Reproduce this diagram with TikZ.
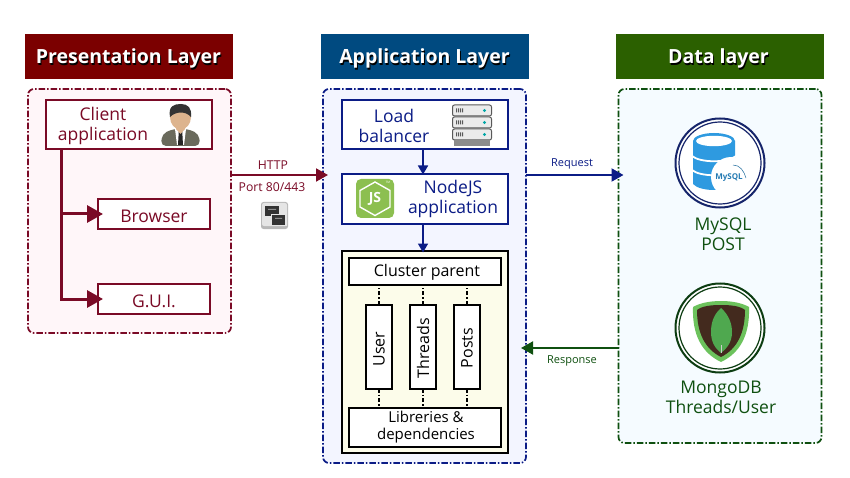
\documentclass[tikz,border=0pt]{standalone}
\usepackage{fontspec}
\setmainfont{Open Sans}
\usetikzlibrary{arrows.meta,calc}
\definecolor{cred}{HTML}{7A0A26}
\definecolor{hred}{HTML}{7B0000}
\definecolor{hblue}{HTML}{004A80}
\definecolor{hgreen}{HTML}{2B6000}
\definecolor{cblue}{HTML}{0B1C86}
\definecolor{cgreen}{HTML}{0F5010}
\definecolor{ring}{HTML}{16256B}
\definecolor{ringg}{HTML}{0D3D12}
\definecolor{sky}{HTML}{2E9AE0}
\definecolor{pred}{HTML}{FFF6F9}
\definecolor{pblue}{HTML}{F3F5FF}
\definecolor{pgreen}{HTML}{F5FBFF}
\definecolor{cream}{HTML}{FCFCEA}
\definecolor{skin}{HTML}{DDB48E}
\definecolor{suit}{HTML}{6A6A5C}
\definecolor{shout}{HTML}{6CC25C}
\definecolor{shin}{HTML}{432A1E}
\definecolor{leaf}{HTML}{4FA84F}
\definecolor{nodeg}{HTML}{8CBF50}
\tikzset{
  x=1pt,y=-1pt,
  header/.style={minimum width=208pt,minimum height=45pt,inner sep=0pt,outer sep=0pt},
  headtext/.style={text=white,font=\fontsize{19.5}{21}\selectfont\bfseries,inner sep=0pt},
  headshadow/.style={text=black,font=\fontsize{19.5}{21}\selectfont\bfseries,inner sep=0pt},
  panel/.style={rounded corners=6pt,line width=1.7pt,dash pattern=on 6.5pt off 2pt on 1.5pt off 2pt,inner sep=0pt,outer sep=0pt},
  boxr/.style={draw=cred,fill=white,line width=2pt,inner sep=0pt,outer sep=0pt},
  boxb/.style={draw=cblue,fill=white,line width=2pt,inner sep=0pt,outer sep=0pt},
  boxk/.style={draw=black,fill=white,line width=2pt,inner sep=0pt,outer sep=0pt},
  txt/.style={align=center,inner sep=0pt,font=\fontsize{17.5}{20}\selectfont},
  smalltxt/.style={align=center,inner sep=0pt,font=\fontsize{16}{17}\selectfont},
  libtxt/.style={align=center,inner sep=0pt,font=\fontsize{15}{17}\selectfont},
  rottxt/.style={inner sep=0pt,font=\fontsize{16}{16}\selectfont,rotate=90},
  tinytxt/.style={inner sep=0pt,font=\fontsize{11}{13}\selectfont},
  porttxt/.style={inner sep=0pt,font=\fontsize{12.2}{13}\selectfont},
  tipbig/.style={-{Triangle[length=16pt,width=17pt]}},
  tipmid/.style={-{Triangle[length=12pt,width=13pt]}},
  tipsm/.style={-{Triangle[length=9pt,width=10pt]}},
  link/.style={line width=2pt,dash pattern=on 4pt off 2pt on 1.5pt off 2pt},
}
\begin{document}
\begin{tikzpicture}
\useasboundingbox (0,0) rectangle (850,478);
\fill[white] (0,0) rectangle (850,478);

% headers
\node[header,fill=hred] (h1) at (129,56.5) {};
\node[header,fill=hblue] (h2) at (425,56.5) {};
\node[header,fill=hgreen] (h3) at (720,56.5) {};
\node[headshadow] (h1s) at (129.5,60) {Presentation Layer};
\node[headtext] (h1t) at (128.5,58.8) {Presentation Layer};
\node[headshadow] (h2s) at (425.5,60) {Application Layer};
\node[headtext] (h2t) at (424.5,58.8) {Application Layer};
\node[headshadow] (h3s) at (719.5,60) {Data layer};
\node[headtext] (h3t) at (718.5,58.8) {Data layer};

% panels
\node[panel,draw=cred,fill=pred,minimum width=203pt,minimum height=244pt] (p1) at (129.5,211) {};
\node[panel,draw=cblue,fill=pblue,minimum width=203pt,minimum height=374pt] (p2) at (424.5,276) {};
\node[panel,draw=cgreen,fill=pgreen,minimum width=203pt,minimum height=354pt] (p3) at (720,266) {};

% presentation layer
\node[boxr,minimum width=166pt,minimum height=49pt] (client) at (128.5,125) {};
\node[boxr,minimum width=112pt,minimum height=30pt] (browser) at (153.5,214) {};
\node[boxr,minimum width=112pt,minimum height=30pt] (gui) at (153.5,299) {};
\node[txt,text=cred] (clientt) at (103,126) {Client\\application};
\node[txt,text=cred] (browsert) at (154,216) {Browser};
\node[txt,text=cred] (guit) at (154,301) {G.U.I.};
% person
\fill[suit,rounded corners=5pt] (161,146) -- (162,134) -- (173,129) -- (188,129) -- (199,134) -- (200,146) -- cycle;
\fill[white] (175,129) -- (186,129) -- (184,145) -- (177,145) -- cycle;
\fill[black!85] (178.8,131) -- (182.2,131) -- (183,145) -- (178,145) -- cycle;
\fill[skin] (176,122) -- (185,122) -- (185,129) -- (180.5,134) -- (176,129) -- cycle;
\fill[skin] (180.5,117) ellipse [x radius=10.5,y radius=12.5];
\fill[black!80] (170,117) .. controls (168,106) and (174,104) .. (181,104) .. controls (188,104) and (192,108) .. (191,117) .. controls (186,111) and (176,111) .. (170,117) -- cycle;

% connectors left
\coordinate (trunk) at (61.5,150);
\draw[cred,line width=3pt,tipbig,shorten >=-5.5pt] (trunk) |- (browser.west);
\draw[cred,line width=3pt,tipbig,shorten >=-5.5pt] (trunk) |- (gui.west);

% application layer
\node[boxb,minimum width=166pt,minimum height=49pt] (lb) at (424.5,125) {};
\node[boxb,minimum width=166pt,minimum height=49pt] (nodejs) at (424.5,199) {};
\node[txt,text=cblue] (lbt) at (394,126) {Load\\balancer};
\node[txt,text=cblue] (nodet) at (453,199) {NodeJS\\application};
% server icon
\foreach \yy in {105,117,129}{
  \draw[fill=black!8,draw=black!65,line width=1pt,rounded corners=2pt] (452.5,\yy) rectangle (491.5,\yy+11);
  \fill[black!65] (456,\yy+3.5) rectangle (457,\yy+7.5) (458,\yy+3.5) rectangle (459,\yy+7.5) (460,\yy+3.5) rectangle (461,\yy+7.5) (462,\yy+3.5) rectangle (463,\yy+7.5);
  \fill[teal!70!cyan] (484.5,\yy+5.5) circle (1.7);
}
\fill[black!45] (454,140) rectangle (490,146);
% node logo
\fill[nodeg,rounded corners=5pt] (356,179) rectangle (394,218);
\draw[white,line width=1.4pt] (375,182) -- (390,190.5) -- (390,207) -- (375,215.5) -- (360,207) -- (360,190.5) -- cycle;
\node[inner sep=0pt,text=white,font=\fontsize{14}{14}\selectfont\bfseries] (js) at (375,199) {JS};
\node[inner sep=0pt,text=white,font=\fontsize{3}{3}\selectfont] (tm) at (388,182.5) {TM};

% cluster
\node[boxk,fill=cream,minimum width=166pt,minimum height=202pt] (cluster) at (424.5,351.5) {};
\node[boxk,minimum width=152pt,minimum height=27pt] (cp) at (424.5,271) {};
\node[boxk,minimum width=26pt,minimum height=84pt] (user) at (379,346.5) {};
\node[boxk,minimum width=26pt,minimum height=84pt] (threads) at (423,346.5) {};
\node[boxk,minimum width=26pt,minimum height=84pt] (posts) at (467,346.5) {};
\node[boxk,minimum width=152pt,minimum height=39pt] (lib) at (424.5,427) {};
\node[smalltxt] (cpt) at (427,272) {Cluster parent};
\node[rottxt] (usert) at (379,349) {User};
\node[rottxt] (threadst) at (423,348) {Threads};
\node[rottxt] (postst) at (467,348) {Posts};
\node[libtxt] (libt) at (426,427.5) {Libreries \&\\dependencies};
\foreach \n in {user,threads,posts}{
  \draw[link] (\n.north) -- (\n.north |- cp.south);
  \draw[link] (\n.south) -- (\n.south |- lib.north);
}
\coordinate (midx) at (423,0);
\draw[cblue,line width=1.7pt,tipsm] (lb.south -| midx) -- (nodejs.north -| midx);
\draw[cblue,line width=1.7pt,tipsm] (nodejs.south -| midx) -- ($(cluster.north -| midx)+(0,2)$);

% data layer
\node[draw=ring,fill=white,line width=2pt,circle,minimum size=89pt,inner sep=0pt] (mysql) at (720,163) {};
\draw[ring,line width=1.2pt] (mysql.center) circle (41);
\fill[sky] (693,141) -- (693,184) .. controls (700,192) and (728,192) .. (735,184) -- (735,141) -- cycle;
\draw[white,line width=1.8pt] (692,156) .. controls (700,163) and (728,163) .. (736,156);
\draw[white,line width=1.8pt] (692,170) .. controls (700,177) and (728,177) .. (736,170);
\fill[sky] (714,141) ellipse [x radius=21,y radius=8];
\fill[white] (714,141) ellipse [x radius=18,y radius=5.2];
\fill[white] (731,177) circle (20);
\node[inner sep=0pt,text=sky!80!black,font=\fontsize{8}{8}\selectfont\bfseries] (myl) at (729,178) {MySQL};
\draw[sky!70!black,line width=.5pt] (733,165) .. controls (740,165) and (744,171) .. (746,178);
\node[txt,text=cgreen] (mysqlt) at (723,234) {MySQL\\POST};

\node[draw=ringg,fill=white,line width=2pt,circle,minimum size=89pt,inner sep=0pt] (mongo) at (720,328) {};
\draw[ringg,line width=1.2pt] (mongo.center) circle (41);
\fill[shout] (721,301) .. controls (732,301) and (742,303) .. (749,307) .. controls (750,335) and (740,353) .. (721,362) .. controls (702,353) and (692,335) .. (693,307) .. controls (700,303) and (710,301) .. (721,301) -- cycle;
\fill[shin] (721,305) .. controls (731,305) and (740,306) .. (745,310) .. controls (745,333) and (737,349) .. (721,357) .. controls (705,349) and (697,333) .. (697,310) .. controls (702,306) and (711,305) .. (721,305) -- cycle;
\fill[leaf] (721,308) .. controls (729,315) and (732,324) .. (732,332) .. controls (732,343) and (726,349) .. (721,353) .. controls (716,349) and (711,343) .. (711,332) .. controls (711,324) and (713,315) .. (721,308) -- cycle;
\draw[black!20,line width=1pt] (721,345) -- (721,353);
\node[txt,text=cgreen] (mongot) at (721,397) {MongoDB\\Threads/User};

% between panels
\node[porttxt,text=cred] (http) at (273,165) {HTTP};
\node[porttxt,text=cred] (port) at (272,187) {Port 80/443};
\node[tinytxt,text=cblue] (req) at (572,164) {Request};
\node[tinytxt,text=cgreen] (resp) at (572,361) {Response};
% network icon
\fill[black!28,rounded corners=2.5pt] (261,202) rectangle (288,229);
\fill[black!10,rounded corners=2pt] (262,203) rectangle (287,226);
\fill[black!80] (265,206) rectangle (279,216);
\fill[black!10] (271,214) rectangle (287,226);
\fill[black!80] (272,215) rectangle (285,225);
\fill[black!45] (268,209) rectangle (276,210) (275,218) rectangle (282,219);

\coordinate (linky) at (0,175);
\coordinate (respy) at (0,348);
\draw[cred,line width=2pt,tipmid,shorten >=-5pt] (p1.east |- linky) -- (p2.west |- linky);
\draw[cblue,line width=2pt,tipmid,shorten >=-5pt] (p2.east |- linky) -- (p3.west |- linky);
\draw[cgreen,line width=2pt,tipmid,shorten >=-5pt] (p3.west |- respy) -- (p2.east |- respy);
\end{tikzpicture}
\end{document}
